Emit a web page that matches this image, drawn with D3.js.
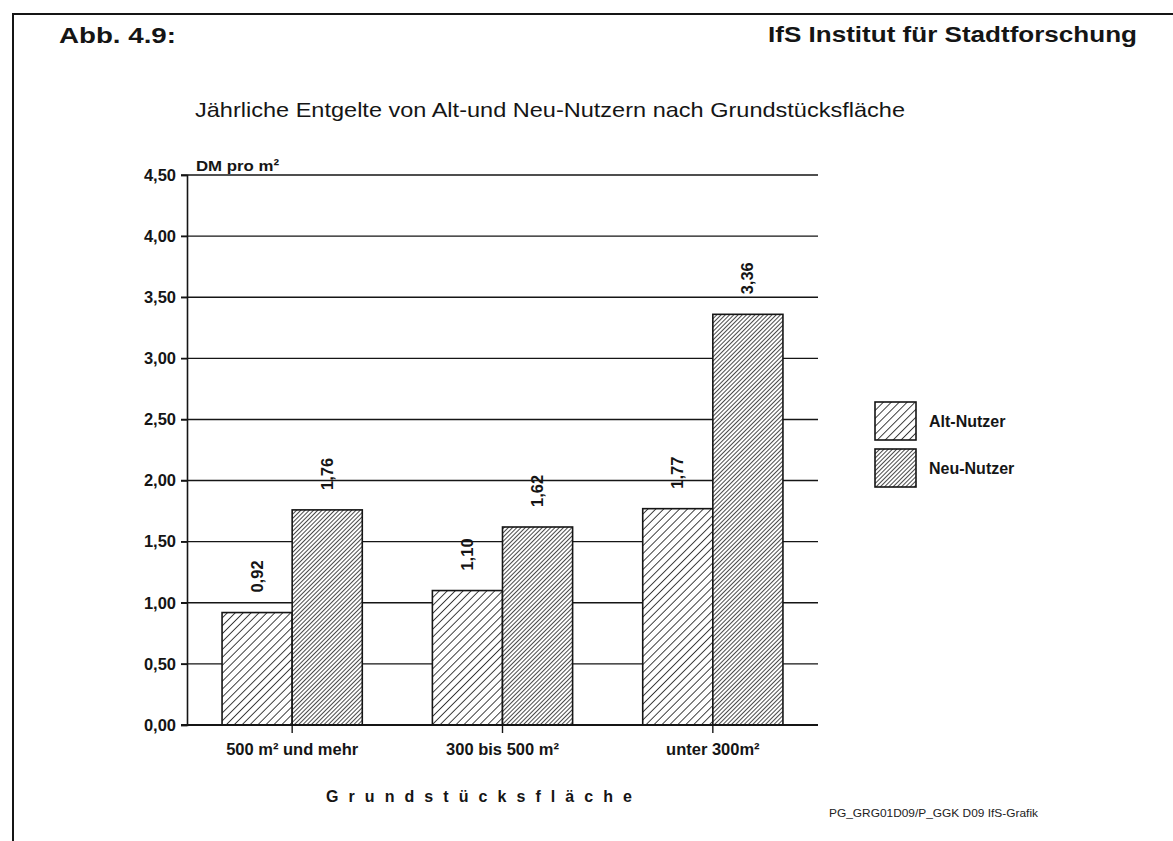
<!DOCTYPE html>
<html>
<head>
<meta charset="utf-8">
<script src="https://cdn.jsdelivr.net/npm/d3@7"></script>
<style>
  body { margin: 0; background: #fff; }
  svg { display: block; font-family: "Liberation Sans", Arial, sans-serif; }
</style>
</head>
<body>
<svg id="chart" width="1173" height="841"></svg>
<script>
// Data
const categories = ["500 m² und mehr", "300 bis 500 m²", "unter 300m²"];
const seriesNames = ["Alt-Nutzer", "Neu-Nutzer"];
const altValues = [0.92, 1.10, 1.77];
const neuValues = [1.76, 1.62, 3.36];
const yTicks = [0, 0.5, 1, 1.5, 2, 2.5, 3, 3.5, 4, 4.5];

const svg = d3.select("#chart");
const fmt = v => d3.format(".2f")(v).replace(".", ",");
const ink = "#151515";

// hatch patterns
const defs = svg.append("defs");
function hatch(id, gap, width) {
    const p = defs.append("pattern")
        .attr("id", id)
        .attr("patternUnits", "userSpaceOnUse")
        .attr("width", gap).attr("height", gap)
        .attr("patternTransform", "rotate(45)");
    p.append("rect").attr("width", gap).attr("height", gap).attr("fill", "#fff");
    p.append("line")
        .attr("x1", 0).attr("y1", 0).attr("x2", 0).attr("y2", gap)
        .attr("stroke", ink).attr("stroke-width", width);
}
hatch("hAlt", 5.6, 1.6);
hatch("hNeu", 3, 1.55);
const fills = ["url(#hAlt)", "url(#hNeu)"];

// frame
svg.append("line").attr("x1", 12).attr("y1", 14).attr("x2", 1173).attr("y2", 14)
    .attr("stroke", ink).attr("stroke-width", 2);
svg.append("line").attr("x1", 13).attr("y1", 13).attr("x2", 13).attr("y2", 841)
    .attr("stroke", ink).attr("stroke-width", 2);

svg.append("text").attr("x", 59).attr("y", 43)
    .attr("font-size", 22).attr("font-weight", "bold").attr("fill", ink)
    .attr("textLength", 117).attr("lengthAdjust", "spacingAndGlyphs")
    .text("Abb. 4.9:");
svg.append("text").attr("x", 768).attr("y", 42)
    .attr("font-size", 22).attr("font-weight", "bold").attr("fill", ink)
    .attr("textLength", 369).attr("lengthAdjust", "spacingAndGlyphs")
    .text("IfS Institut für Stadtforschung");

svg.append("text").attr("x", 195).attr("y", 117)
    .attr("font-size", 21).attr("fill", ink)
    .attr("textLength", 710).attr("lengthAdjust", "spacingAndGlyphs")
    .text("Jährliche Entgelte von Alt-und Neu-Nutzern nach Grundstücksfläche");

// scales
const plotLeft = 187, plotRight = 818, plotTop = 175, plotBottom = 725;
const x = d3.scaleBand().domain(categories).range([plotLeft, plotRight])
    .paddingInner(1 / 3).paddingOuter(1 / 6);
const xs = d3.scaleBand().domain(seriesNames).range([0, x.bandwidth()]);
const y = d3.scaleLinear().domain([0, 4.5]).range([plotBottom, plotTop]);

// gridlines
svg.append("g")
    .selectAll("line")
    .data(yTicks.filter(d => d > 0))
    .join("line")
    .attr("x1", plotLeft - 6).attr("x2", plotRight)
    .attr("y1", d => y(d)).attr("y2", d => y(d))
    .attr("stroke", ink).attr("stroke-width", 1.4);

// y axis
const yAxis = svg.append("g")
    .attr("transform", `translate(${plotLeft},0)`)
    .call(d3.axisLeft(y).tickValues(yTicks).tickFormat(fmt).tickSize(6).tickPadding(5));
yAxis.select(".domain").attr("stroke", ink).attr("stroke-width", 1.6);
yAxis.selectAll(".tick line").attr("stroke", ink).attr("stroke-width", 1.4);
yAxis.selectAll(".tick text").attr("font-size", 16.5).attr("font-weight", "bold")
    .attr("fill", ink).attr("font-family", "Liberation Sans, Arial, sans-serif");

svg.append("text").attr("x", 196).attr("y", 171)
    .attr("font-size", 15.5).attr("font-weight", "bold").attr("fill", ink)
    .attr("textLength", 83).attr("lengthAdjust", "spacingAndGlyphs")
    .text("DM pro m²");

// bars
const rows = categories.map((c, i) => [
    { cat: c, s: seriesNames[0], v: altValues[i], k: 0 },
    { cat: c, s: seriesNames[1], v: neuValues[i], k: 1 }
]).flat();

svg.append("g")
    .selectAll("rect")
    .data(rows)
    .join("rect")
    .attr("x", d => x(d.cat) + xs(d.s))
    .attr("y", d => y(d.v))
    .attr("width", xs.bandwidth())
    .attr("height", d => y(0) - y(d.v))
    .attr("fill", d => fills[d.k])
    .attr("stroke", ink).attr("stroke-width", 1.6);

// value labels (rotated)
svg.append("g")
    .selectAll("text")
    .data(rows)
    .join("text")
    .attr("transform", d => `translate(${x(d.cat) + xs(d.s) + xs.bandwidth() / 2 + 5.5},${y(d.v) - 20}) rotate(-90)`)
    .attr("font-size", 16.5).attr("font-weight", "bold").attr("fill", ink)
    .text(d => fmt(d.v));

// x axis
const xAxis = svg.append("g")
    .attr("transform", `translate(0,${plotBottom})`)
    .call(d3.axisBottom(x).tickSize(8).tickPadding(10).tickSizeOuter(0));
xAxis.select(".domain").attr("stroke", ink).attr("stroke-width", 1.8)
    .attr("d", `M${plotLeft - 6},0H${plotRight}`);
xAxis.selectAll(".tick line").attr("stroke", ink).attr("stroke-width", 1.4);
xAxis.selectAll(".tick text").attr("font-size", 16.5).attr("font-weight", "bold")
    .attr("fill", ink).attr("font-family", "Liberation Sans, Arial, sans-serif");

svg.append("text").attr("x", 326).attr("y", 802)
    .attr("font-size", 16).attr("font-weight", "bold").attr("fill", ink)
    .attr("textLength", 306).attr("lengthAdjust", "spacing")
    .text("Grundstücksfläche");

// legend
const legend = svg.append("g").attr("transform", "translate(875,402)");
seriesNames.forEach((s, i) => {
    const g = legend.append("g").attr("transform", `translate(0,${i * 47})`);
    g.append("rect").attr("width", 41).attr("height", 38)
        .attr("fill", fills[i]).attr("stroke", ink).attr("stroke-width", 1.6);
    g.append("text").attr("x", 54).attr("y", 25)
        .attr("font-size", 16).attr("font-weight", "bold").attr("fill", ink)
        .text(s);
});

svg.append("text").attr("x", 829).attr("y", 817)
    .attr("font-size", 11.5).attr("fill", "#222")
    .attr("textLength", 209).attr("lengthAdjust", "spacingAndGlyphs")
    .text("PG_GRG01D09/P_GGK D09 IfS-Grafik");
</script>
</body>
</html>
